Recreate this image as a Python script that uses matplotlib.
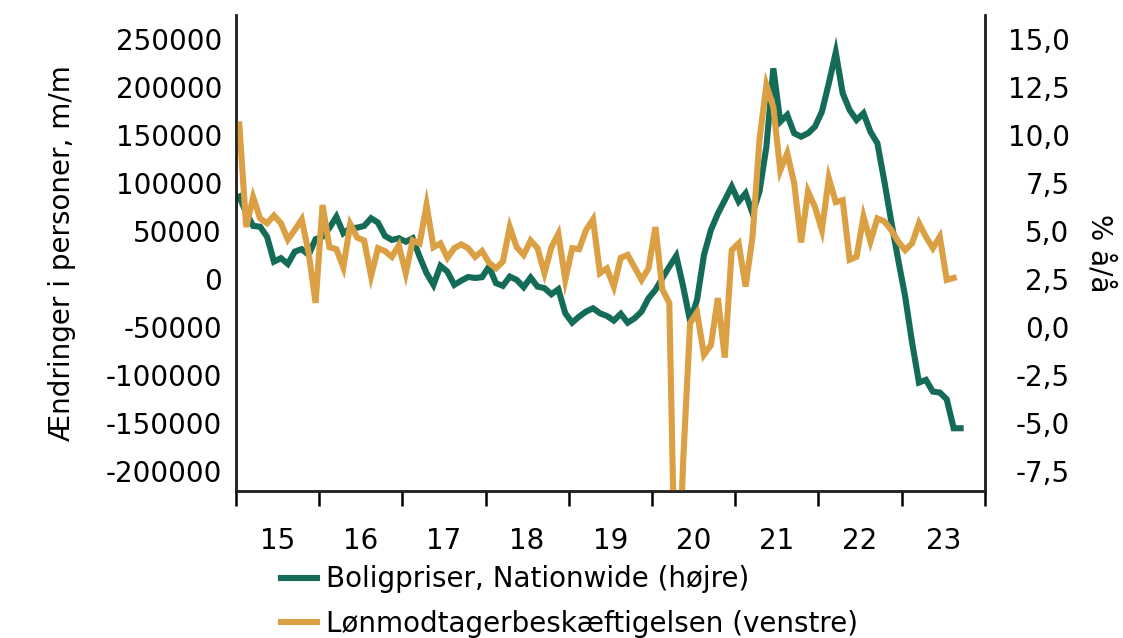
import matplotlib
matplotlib.use("Agg")
import matplotlib.pyplot as plt
from matplotlib.ticker import FixedLocator, FuncFormatter, NullFormatter
import numpy as np

plt.rcParams['font.family'] = ['DejaVu Sans']
plt.rcParams['axes.unicode_minus'] = False

# Lønmodtagerbeskæftigelse, ændring m/m (1000 personer), jan 2015 - aug 2023
loen_k = [161, 54, 85, 63, 58, 66, 58, 41, 51, 62, 27, -25,
          77, 33, 31, 12, 57, 43, 40, 3, 32, 29, 23, 35,
          6, 40, 37, 77, 33, 37, 22, 32, 36, 32, 23, 29,
          17, 11, 18, 54, 33, 25, 40, 32, 6, 33, 47, -1,
          32, 31, 51, 62, 6, 11, -8, 22, 25, 12, -1, 11,
          54, -11, -25, -380, -190, -46, -35, -79, -69, -20, -82, 30,
          37, -8, 44, 145, 202, 179, 113, 131, 100, 38, 91, 75,
          51, 105, 80, 82, 20, 23, 65, 39, 63, 60, 51, 39,
          30, 37, 58, 44, 32, 44, -1, 1]

# Boligpriser, Nationwide, % å/å, jan 2015 - sep 2023
bolig = [6.79, 5.94, 5.26, 5.22, 4.70, 3.40, 3.58, 3.28, 3.92, 4.05, 3.75, 4.57,
         4.70, 5.16, 5.74, 4.88, 5.14, 5.17, 5.26, 5.66, 5.43, 4.74, 4.53, 4.62,
         4.44, 4.62, 3.66, 2.80, 2.19, 3.18, 2.88, 2.19, 2.41, 2.60, 2.55, 2.59,
         3.14, 2.28, 2.14, 2.62, 2.45, 2.07, 2.57, 2.10, 2.02, 1.70, 1.96, 0.71,
         0.22, 0.54, 0.80, 0.97, 0.71, 0.57, 0.33, 0.68, 0.22, 0.45, 0.80, 1.49,
         1.93, 2.54, 3.14, 3.70, 2.10, 0.30, 1.41, 3.75, 5.05, 5.90, 6.60, 7.31,
         6.53, 6.96, 5.92, 7.05, 9.39, 13.47, 10.69, 11.04, 10.09, 9.91, 10.09, 10.43,
         11.21, 12.69, 14.30, 12.17, 11.30, 10.78, 11.13, 10.17, 9.57, 7.60, 5.50, 3.50,
         1.60, -0.80, -2.90, -2.76, -3.37, -3.42, -3.77, -5.28, -5.28]

years = list(range(2015, 2025))
year_labels = ["15", "16", "17", "18", "19", "20", "21", "22", "23"]
left_ticks = [-200000, -150000, -100000, -50000, 0, 50000, 100000, 150000, 200000, 250000]
right_ticks = [-7.5, -5.0, -2.5, 0.0, 2.5, 5.0, 7.5, 10.0, 12.5, 15.0]

GREEN = '#146b58'
ORANGE = '#dba043'
FS = 20

x_loen = 2015 + (np.arange(len(loen_k)) + 0.5) / 12
x_bolig = 2015 + (np.arange(len(bolig)) + 0.5) / 12

fig, ax = plt.subplots(figsize=(11.23, 6.38), dpi=100)
fig.subplots_adjust(left=0.210, right=0.877, top=0.9765, bottom=0.2304)
ax2 = ax.twinx()

l2, = ax2.plot(x_bolig, bolig, color=GREEN, lw=4.4, solid_joinstyle='miter',
               label='Boligpriser, Nationwide (højre)')
l1, = ax.plot(x_loen, np.array(loen_k) * 1000, color=ORANGE, lw=4.4,
              solid_joinstyle='miter', label='Lønmodtagerbeskæftigelsen (venstre)')

ax.set_zorder(ax2.get_zorder() + 1)
ax.patch.set_visible(False)

ax.set_xlim(2015, 2024)
ax.set_ylim(-221000, 275000)
ax2.set_ylim(-221000 / 20000 + 2.5, 275000 / 20000 + 2.5)

# x: ticks at year boundaries, labels mid-year
ax.xaxis.set_major_locator(FixedLocator(years))
ax.xaxis.set_major_formatter(NullFormatter())
ax.xaxis.set_minor_locator(FixedLocator([y + 0.5 for y in years[:-1]]))
ax.xaxis.set_minor_formatter(FuncFormatter(lambda v, p: year_labels[int(v) - 2015]))
ax.tick_params(axis='x', which='major', length=11, width=1.8, direction='out')
ax.tick_params(axis='x', which='minor', length=0, pad=26, labelsize=FS)

ax.yaxis.set_major_locator(FixedLocator(left_ticks))
ax.yaxis.set_major_formatter(FuncFormatter(lambda v, p: "%d" % v))
ax.tick_params(axis='y', length=0, pad=10, labelsize=FS)

ax2.yaxis.set_major_locator(FixedLocator(right_ticks))
ax2.yaxis.set_major_formatter(FuncFormatter(lambda v, p: ("%.1f" % v).replace('.', ',')))
ax2.tick_params(axis='y', length=0, pad=61, labelsize=FS)
for t in ax2.get_yticklabels():
    t.set_horizontalalignment('right')

for a in (ax, ax2):
    a.spines['top'].set_visible(False)
    for s in ('left', 'right', 'bottom'):
        a.spines[s].set_linewidth(1.8)
        a.spines[s].set_color('#222222')

ax.set_ylabel('Ændringer i personer, m/m', fontsize=FS)
ax.yaxis.set_label_coords(-0.214, 0.5)
ax2.set_ylabel('% å/å', fontsize=FS, rotation=270, va='center')
ax2.yaxis.set_label_coords(1.1535, 0.5)

fig.legend(handles=[l2, l1], loc='upper left', bbox_to_anchor=(0.250, 0.114),
           frameon=False, fontsize=FS, handlelength=1.3, handletextpad=0.33,
           labelspacing=0.6, borderpad=0, borderaxespad=0)

fig.savefig('out.png', dpi=100)
